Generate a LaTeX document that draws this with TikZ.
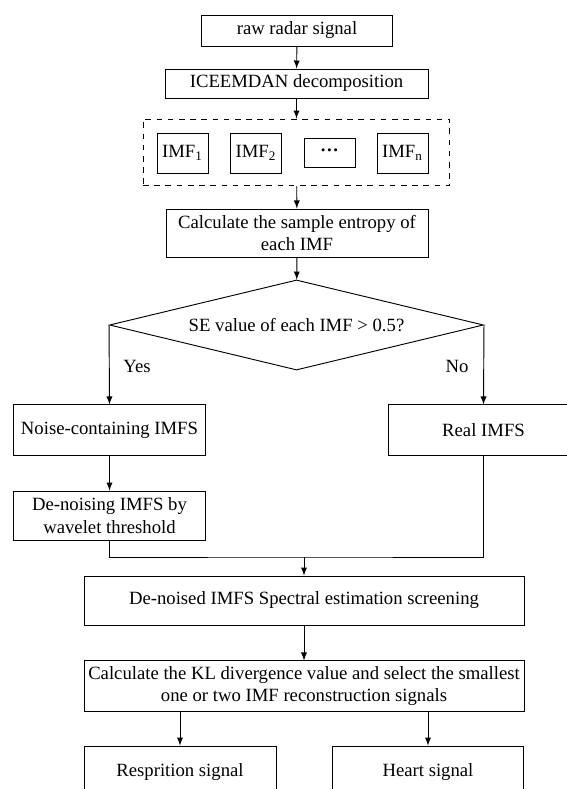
\documentclass[tikz,border=0pt]{standalone}
\usepackage{fontspec}
\setmainfont{Liberation Serif}
\usetikzlibrary{arrows.meta, shapes.geometric}

\begin{document}
\begin{tikzpicture}[x=0.535pt, y=-0.535pt, line width=0.5pt,
	box/.style={draw, align=center, inner sep=1pt},
	imfbox/.style={draw, minimum width=27.3pt, minimum height=21.4pt, inner sep=1pt},
	arr/.style={-latex}]
	\useasboundingbox (0,0) rectangle (567,789);
	\clip (0,0) rectangle (567,789);
	% top part
	\node[box, minimum width=101.7pt, minimum height=16.6pt] (raw) at (297,30.5) {raw radar signal};
	\node[box, minimum width=140.7pt, minimum height=15.5pt] (ice) at (296.5,83.5) {ICEEMDAN decomposition};
	\node[draw, dashed, minimum width=164.2pt, minimum height=35.8pt] (imfs) at (296.5,152.5) {};
	\node[imfbox] (imf1) at (182.5,153) {IMF\textsubscript{1}};
	\node[imfbox] (imf2) at (256,153) {IMF\textsubscript{2}};
	\node[draw, minimum width=27.3pt, minimum height=15.5pt, inner sep=1pt] (dots) at (329.5,152.5) {\textbf{\textperiodcentered\textperiodcentered\textperiodcentered}};
	\node[imfbox] (imfn) at (402.5,153) {IMF\textsubscript{n}};
	\node[box, minimum width=140.2pt, minimum height=25.7pt] (calc) at (297,233) {Calculate the sample entropy of\\each IMF};
	\node[diamond, draw, aspect=4.1, inner sep=0pt, minimum width=200.1pt, minimum height=48.2pt] (se) at (296.5,325) {SE value of each IMF > 0.5?};
	\node (yes) at (137,366) {Yes};
	\node (no) at (457,366) {No};
	% branches
	\node[box, minimum width=102.7pt, minimum height=26.8pt] (noise) at (109.5,430) {Noise-containing IMFS};
	\node[box, minimum width=101.7pt, minimum height=26.8pt] (real) at (483.5,430) {Real IMFS};
	\node[box, minimum width=102.7pt, minimum height=26.2pt] (den) at (109.5,515.5) {De-noising IMFS by\\wavelet threshold};
	\coordinate (join) at (304,557);
	% bottom part
	\node[box, minimum width=235.4pt, minimum height=26.2pt] (spec) at (304,600.5) {De-noised IMFS Spectral estimation screening};
	\node[box, minimum width=235.4pt, minimum height=26.8pt] (kl) at (304,686) {Calculate the KL divergence value and select the smallest\\one or two IMF reconstruction signals};
	\node[box, minimum width=102.7pt, minimum height=27.8pt] (resp) at (180,772) {Resprition signal};
	\node[box, minimum width=101.7pt, minimum height=27.8pt] (heart) at (428,772) {Heart signal};

	\draw[arr] (raw) -- (ice);
	\draw[arr] (ice) -- (imfs);
	\draw[arr] (imfs) -- (calc);
	\draw[arr] (calc) -- (se);
	\draw[arr] (se.west) -- (noise.north);
	\draw[arr] (se.east) -- (real.north);
	\draw[arr] (noise) -- (den);
	\draw (den.south) |- (join) -| (real.south);
	\draw[arr] (join) -- (spec);
	\draw[arr] (spec) -- (kl);
	\draw[arr] (kl.south -| resp.north) -- (resp);
	\draw[arr] (kl.south -| heart.north) -- (heart);
\end{tikzpicture}
\end{document}
